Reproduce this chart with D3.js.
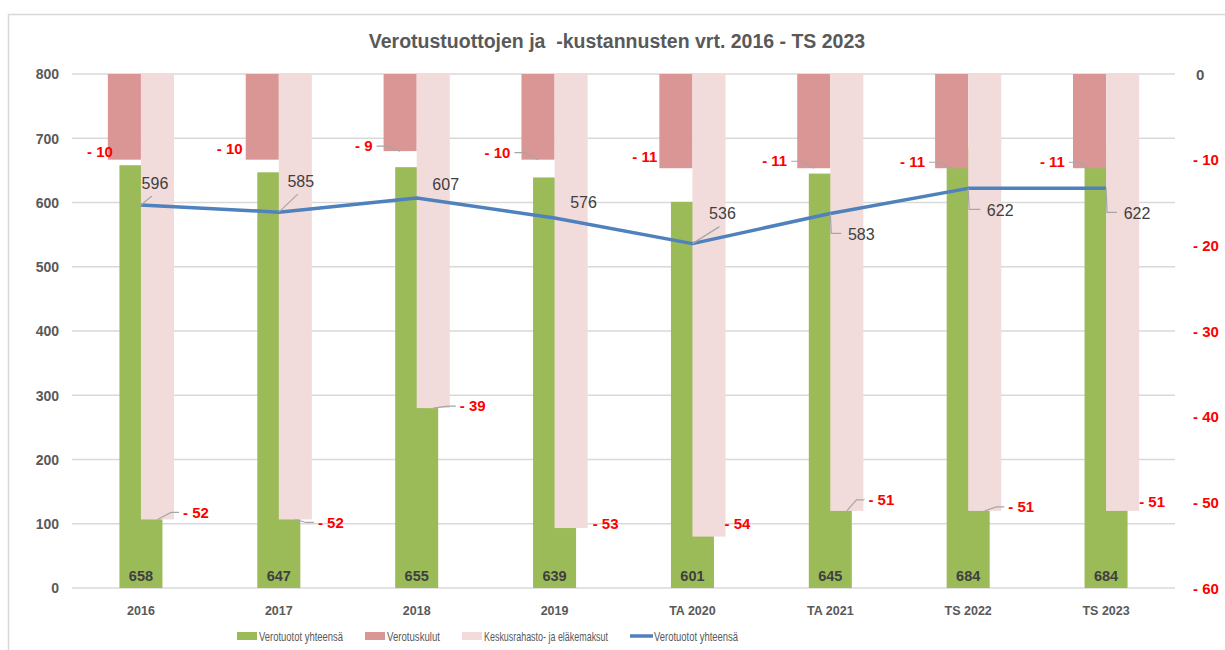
<!DOCTYPE html>
<html>
<head>
<meta charset="UTF-8">
<title>Verotustuottojen ja -kustannusten vrt.</title>
<style>
body { margin:0; background:#fff; }
svg { display:block; font-family: "Liberation Sans", Arial, sans-serif; }
.grid line { stroke:#d9d9d9; stroke-width:1.3px; }
.axisL text { fill:#595959; font-weight:bold; font-size:14px; }
.axisR text { font-weight:bold; font-size:15px; }
.cat text { fill:#595959; font-weight:bold; font-size:12.5px; }
.lbl-red { fill:#ff0000; font-weight:bold; font-size:15px; }
.leader { fill:none; stroke:#a6a6a6; stroke-width:1.2px; }
.legend text { fill:#595959; font-size:13px; }
</style>
</head>
<body>
<svg width="1225" height="650"></svg>
<script src="https://cdn.jsdelivr.net/npm/d3@7"></script>
<script>
// data
const categories = ['2016','2017','2018','2019','TA 2020','TA 2021','TS 2022','TS 2023'];
const tuotot     = [658, 647, 655, 639, 601, 645, 684, 684];   // Verotuotot yhteensä (bars)
const kulut      = [-10, -10, -9, -10, -11, -11, -11, -11];    // Verotuskulut
const maksut     = [-52, -52, -39, -53, -54, -51, -51, -51];   // Keskusrahasto- ja eläkemaksut
const tuototLine = [596, 585, 607, 576, 536, 583, 622, 622];   // Verotuotot yhteensä (line)
const leftTicks  = [0, 100, 200, 300, 400, 500, 600, 700, 800];
const rightTicks = [0, -10, -20, -30, -40, -50, -60];

// manual label nudges (like Excel's dragged labels): [dx, dy, leader?]
const lineNudge  = [[14,-22,1],[22,-31,1],[29,-14,0],[29,-16,0],[30,-30,1],[31,21,1],[32,22,1],[31,25,1]];
const kulutNudge = [[5,-8,0],[-3,-11,0],[-11,-5,1],[-11,-7,1],[-2,-11,0],[-10,-7,1],[-10,-6,1],[-8,-6,1]];
const maksuNudge = [[9,-7,1],[6,3,1],[10,-2,1],[5,-4,0],[-1,-13,0],[5,-11,1],[7,-4,1],[0,-9,0]];

const svg = d3.select('svg');
const fmtNeg = v => v < 0 ? '- ' + Math.abs(v) : String(v);

// frame
svg.append('rect').attr('x',8.5).attr('y',14.5).attr('width',1230).attr('height',650)
  .attr('fill','none').attr('stroke','#d9d9d9').attr('stroke-width',1.5);

svg.append('text').attr('x',617).attr('y',48).attr('text-anchor','middle')
  .style('white-space','pre')
  .attr('fill','#595959').attr('font-weight','bold').attr('font-size',19.5)
  .text('Verotustuottojen ja  -kustannusten vrt. 2016 - TS 2023');

const x = d3.scaleBand().domain(categories).range([72,1175]);
const xGreen = d3.scaleBand().domain(categories).range([72,1175]).paddingInner(0.688).paddingOuter(0.344);
const xPink = d3.scaleBand().domain(categories).range([72,1175]).paddingInner(0.52).paddingOuter(0.26);
const xSub = d3.scaleBand().domain(['kulut','maksut']).range([0, xPink.bandwidth()]);
const yL = d3.scaleLinear().domain([0,800]).range([588,74]);
const yR = d3.scaleLinear().domain([0,-60]).range([74,588]);
const cx = c => x(c) + x.bandwidth()/2;

// gridlines
svg.append('g').attr('class','grid')
  .selectAll('line').data(leftTicks).join('line')
  .attr('x1',72).attr('x2',1175).attr('y1',d=>yL(d)).attr('y2',d=>yL(d));

// left axis
const gL = svg.append('g').attr('class','axisL').attr('transform','translate(59,0)')
  .call(d3.axisLeft(yL).tickValues(leftTicks).tickSize(0).tickPadding(0));
gL.select('.domain').remove();
gL.selectAll('text').attr('dy','0.35em');

// right axis
const gR = svg.append('g').attr('class','axisR').attr('transform','translate(1193,0)')
  .call(d3.axisRight(yR).tickValues(rightTicks).tickSize(0).tickPadding(0).tickFormat(fmtNeg));
gR.select('.domain').remove();
gR.selectAll('text').attr('dy','0.35em').attr('fill', d => d < 0 ? '#ff0000' : '#595959')
  .attr('dx', d => d < 0 ? 0 : 3);

// category axis
const gX = svg.append('g').attr('class','cat').attr('transform','translate(0,588)')
  .call(d3.axisBottom(x).tickSize(0).tickPadding(18));
gX.select('.domain').remove();

// green bars
svg.append('g').selectAll('rect').data(categories).join('rect')
  .attr('x', c => xGreen(c)).attr('width', xGreen.bandwidth())
  .attr('y', (c,i) => yL(tuotot[i])).attr('height', (c,i) => yL(0) - yL(tuotot[i]))
  .attr('fill','#9bbb59');

// pink bars (secondary axis, hanging from 0)
svg.append('g').selectAll('rect').data(categories).join('rect')
  .attr('x', c => xPink(c) + xSub('kulut')).attr('width', xSub.bandwidth())
  .attr('y', yR(0)).attr('height', (c,i) => yR(kulut[i]) - yR(0))
  .attr('fill','#d99694');
svg.append('g').selectAll('rect').data(categories).join('rect')
  .attr('x', c => xPink(c) + xSub('maksut')).attr('width', xSub.bandwidth())
  .attr('y', yR(0)).attr('height', (c,i) => yR(maksut[i]) - yR(0))
  .attr('fill','#f2dcdb');

// line
const line = d3.line().x(d => cx(d.c)).y(d => yL(d.v));
const lineData = categories.map((c,i) => ({c, v: tuototLine[i]}));
svg.append('path').datum(lineData).attr('d', line)
  .attr('fill','none').attr('stroke','#4f81bd').attr('stroke-width',3.5).attr('stroke-linejoin','round');

// green labels
svg.append('g').selectAll('text').data(categories).join('text')
  .attr('x', c => xGreen(c) + xGreen.bandwidth()/2).attr('y', yL(0) - 12)
  .attr('dy','0.35em').attr('text-anchor','middle')
  .attr('fill','#404040').attr('font-weight','bold').attr('font-size',14.5)
  .text((c,i) => tuotot[i]);

// line labels
const leaders = svg.append('g');
categories.forEach((c,i) => {
  const px = cx(c), py = yL(tuototLine[i]);
  const [dx, dy, ld] = lineNudge[i];
  const tx = px + dx, ty = py + dy;
  if (ld) {
    const pts = dy < 0 ? [[px,py],[tx-3,ty+13]] : [[px,py],[px+1,ty-1],[tx-20,ty-1]];
    leaders.append('path').attr('class','leader').attr('d', d3.line()(pts));
  }
  svg.append('text').attr('x',tx).attr('y',ty).attr('dy','0.35em').attr('text-anchor','middle')
    .attr('fill','#404040').attr('font-size',16).text(tuototLine[i]);
});

// Verotuskulut labels (left of the bar bottom)
categories.forEach((c,i) => {
  const bx = xPink(c) + xSub('kulut'), by = yR(kulut[i]);
  const [dx, dy, ld] = kulutNudge[i];
  const tx = bx + dx, ty = by + dy;
  if (ld) leaders.append('path').attr('class','leader')
    .attr('d', d3.line()([[tx+4,ty],[tx+14,ty],[bx+xSub.bandwidth()/2,by]]));
  svg.append('text').attr('class','lbl-red').attr('x',tx).attr('y',ty).attr('dy','0.35em')
    .attr('text-anchor','end').text(fmtNeg(kulut[i]));
});

// Keskusrahasto- ja eläkemaksut labels (right of the bar bottom)
categories.forEach((c,i) => {
  const bx = xPink(c) + xSub('maksut') + xSub.bandwidth(), by = yR(maksut[i]);
  const [dx, dy, ld] = maksuNudge[i];
  const tx = bx + dx, ty = by + dy;
  if (ld) leaders.append('path').attr('class','leader')
    .attr('d', d3.line()([[bx - xSub.bandwidth()/2, by],[tx-12,ty],[tx-4,ty]]));
  svg.append('text').attr('class','lbl-red').attr('x',tx).attr('y',ty).attr('dy','0.35em')
    .attr('text-anchor','start').text(fmtNeg(maksut[i]));
});

// legend
const legendItems = [
  {name:'Verotuotot yhteensä', color:'#9bbb59', type:'rect', x:237, w:84},
  {name:'Verotuskulut', color:'#d99694', type:'rect', x:365, w:53},
  {name:'Keskusrahasto- ja eläkemaksut', color:'#f2dcdb', type:'rect', x:462, w:124},
  {name:'Verotuotot yhteensä', color:'#4f81bd', type:'line', x:630, w:84}
];
const lg = svg.append('g').attr('class','legend');
legendItems.forEach(d => {
  if (d.type === 'rect') lg.append('rect').attr('x',d.x).attr('y',632).attr('width',20).attr('height',8).attr('fill',d.color);
  else lg.append('line').attr('x1',d.x).attr('x2',d.x+23).attr('y1',636).attr('y2',636).attr('stroke',d.color).attr('stroke-width',3.5);
  lg.append('text').attr('x', d.x + (d.type==='rect' ? 22 : 24)).attr('y',636).attr('dy','0.35em')
    .attr('textLength', d.w).attr('lengthAdjust','spacingAndGlyphs').text(d.name);
});
</script>
</body>
</html>
